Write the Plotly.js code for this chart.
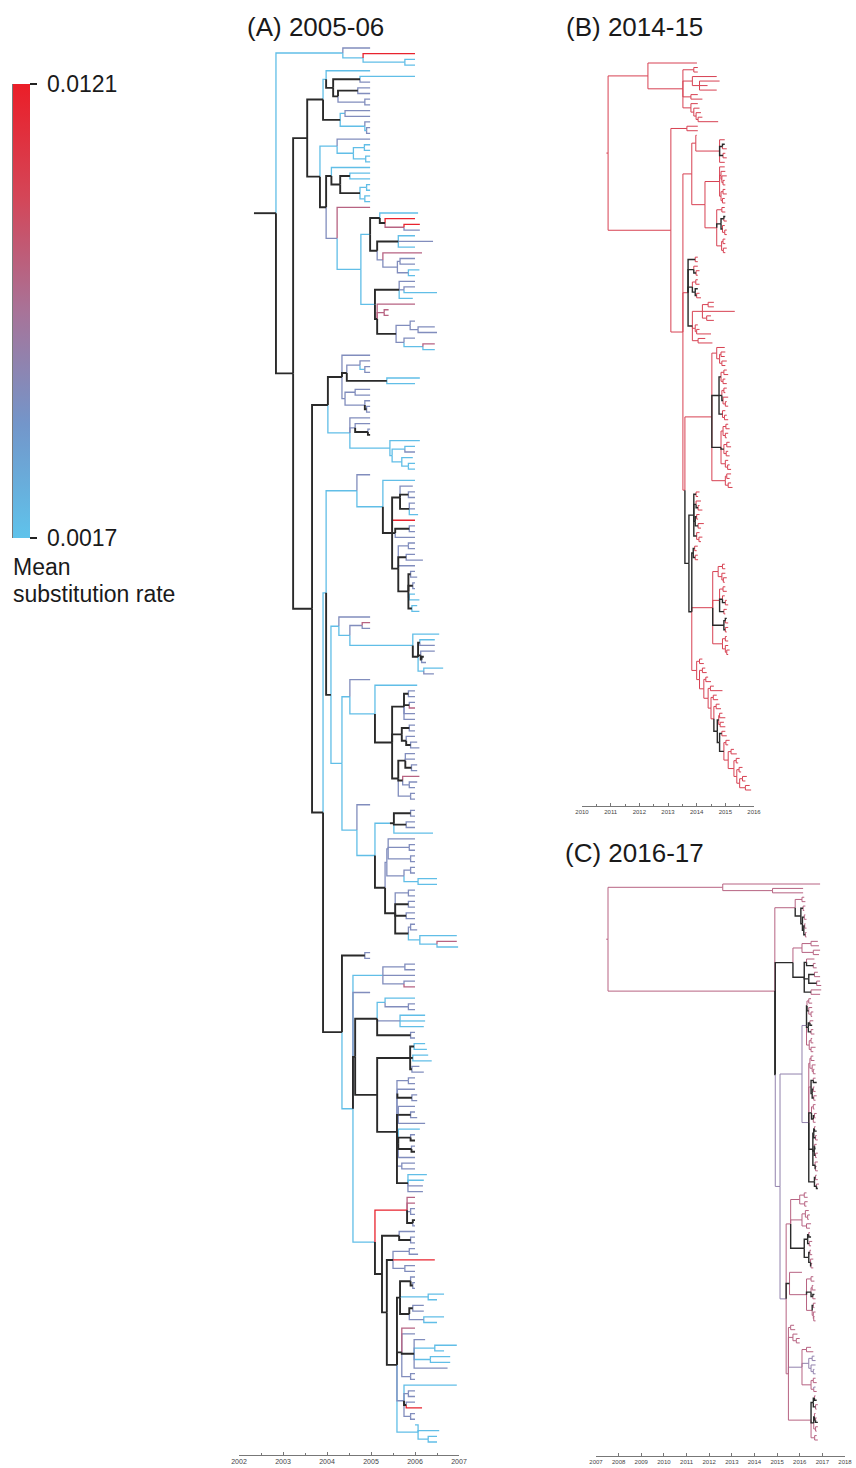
<!DOCTYPE html>
<html>
<head>
<meta charset="utf-8">
<script src="https://cdn.plot.ly/plotly-3.0.1.min.js"></script>
<style>html,body{margin:0;padding:0;background:#fff;}#chart{width:856px;height:1468px;}</style>
</head>
<body>
<div id="chart"></div>
<script>
// ---------------- DATA ----------------
// Branch rate codes -> mean substitution rate (per branch). 'k' marks dark (black) lineages.
const rateCodes  = ['b', 'g', 'l', 'm', 'p', 'r'];
const rateValues = [0.0020, 0.0050, 0.0058, 0.0078, 0.0098, 0.0118];
const darkCode = 'k';
const rateRange = [0.0017, 0.0121];
const rateTickText = ['0.0017', '0.0121'];

const panelTitles = ['(A) 2005-06', '(B) 2014-15', '(C) 2016-17'];
const colorbarTitle = ['Mean', 'substitution rate'];

const ticksA = [2002, 2003, 2004, 2005, 2006, 2007];
const ticksB = [2010, 2011, 2012, 2013, 2014, 2015, 2016];
const ticksC = [2007, 2008, 2009, 2010, 2011, 2012, 2013, 2014, 2015, 2016, 2017, 2018];

// Trees: nested clades "(child,child)TIME CODE", leaf "TIME CODE"; TIME in years after base year.
const baseA = 2000, baseB = 2010, baseC = 2000;

// ---- Tree A (2005-06) ----
const A_G1   = "(4.98g,(6.0r,(6.0b,6.0b)5.77b)4.82b)4.36b";
const A_G2a  = "((4.98b,((6.0b,4.98g)4.75k,((4.98g,4.98g)4.70k,(4.98g,4.98g)4.86g)4.25k)4.14k)3.98b,((4.98g,4.98g)4.41b,(4.98g,(4.98g,4.98g)4.9b)4.86b)4.30k)3.91k";
const A_G2b1 = "(4.98g,((4.98b,4.98b)4.85b,(4.98b,4.98b)4.88b)4.60b)4.23b";
const A_G2b2 = "(4.98b,((4.98b,4.98b)4.52k,((4.98b,4.98b)4.9b,(4.98b,4.98b)4.86b)4.75k)4.30k)4.10k";
const A_G3   = "(4.98m,(((6.07b,(6.0r,(6.11r,6.11g)5.75m)5.32k)5.20k,((6.0b,6.41g,6.0b)5.62k,(6.16m,((6.0g,6.0g)5.66g,(6.1b,6.0b)5.85g)5.60g)5.27g)5.14k)4.98b,((6.0g,(6.0g,6.5b)5.75g,5.95b)5.64k,(6.0m,(5.4m,5.4m)5.3m,((6.0g,(6.45g,6.5g)6.07g)5.89g,(6.0g,(6.45m,6.45b)6.18b)5.75g)5.57k)5.14k)5.09b)4.77b)4.23g";
const A_G4   = "((4.98g,((4.98g,(4.98g,4.98g)4.86b)4.75g,(6.11b,6.0b)5.36k)4.45k,((4.98g,4.98g)4.64g,(4.98g,(4.98g,4.98g)4.9k)4.86g)4.41g)4.34k,(4.98g,(4.98g,(4.98g,4.98k)4.93k)4.64g,(6.11b,((6.0b,6.0g)5.77b,(5.95b,(6.0b,6.0b)5.85b)5.70b)5.48b)5.43b)4.52b)4.02k";
const A_G5   = "(4.98g,(6.0b,((5.95g,(6.0g,6.0g)5.85k,(6.0g,6.0g,6.07b)5.87k)5.66k,6.0r,((6.0g,6.0g)5.87k,6.0g)5.55k,((6.0g,6.0g)5.85g,(6.0g,6.18g)5.80k,6.0g,((6.0g,6.05g)5.9k,(6.0g,6.0g)5.95k,(6.0b,6.1b)5.87g,(6.05b,6.1b)5.93k)5.85k)5.62k)5.48k)5.27b)4.68b";
const A_G6   = "(4.98g,((4.98m,4.98g)4.80g,(6.55b,((6.45b,6.45g)6.11k,(6.45g,(6.2k,6.25g)6.15k)6.13k,(6.64b,6.43g)6.2b)6.07k)5.95b)4.52b)4.27b";
const A_G7   = "(4.98g,(6.05b,(((6.0g,6.0g)5.85k,(6.0g,6.0m)5.87k,6.0g,6.0g)5.75k,((6.0g,6.0g)5.87k,(6.0g,(6.05g,6.1g)5.9k)5.8k)5.7k,((6.0g,6.0g,(6.05g,6.05g)5.92k)5.78k,(6.1m,(6.05g,6.0g)5.87g)5.72k,(6.0g,6.0g)5.9g)5.62k)5.48k)5.09b)4.52b";
const A_G8   = "(4.98g,((((6.0g,6.0g)5.9k,(6.0g,6.0g)5.8k,6.41b)5.52k)5.43b,(((6.0g,(6.0g,6.0g)5.87g,(6.0g,6.0g)5.9g)5.39g,((6.0g,6.0g)5.9g,(6.5b,6.5b)6.07b)5.75g)5.36g,((6.0g,6.0g)5.85g,(6.0g,6.0g)5.85k,(6.0g,6.0g)5.8k,((6.0g,6.05g)5.9g,(6.95b,(6.95m,6.98b)6.5b)6.11b)5.85k)5.55k)5.32k)5.09b)4.68b";
const A_G9a  = "((6.0g,6.0g)5.77g,6.0g,(6.0g,6.0m)5.75g)5.27b";
const A_G9b  = "((6.0b,(6.0g,6.0g)5.85g)5.32b,(6.23b,6.23b,6.2b)5.66g,(6.0g,6.0g)5.9k)5.14k";
const A_G9c  = "((6.23b,6.27b)5.98k,(6.3b,6.38b)5.95k,(6.1g,6.2g)5.93k)5.89k";
const A_G10  = "((6.0g,6.0g)5.85g,(6.0g,(6.05g,6.05g)5.93k)5.6g,(6.0g,(6.0g,6.05g)5.9k,6.23g)5.62k,(6.11b,(6.0g,6.0k)5.9k,(6.0g,6.0k)5.92k,6.0g)5.62k,(6.0g,6.0g)5.7g,(6.27b,6.2b,6.18g,6.18g)5.84k)5.59k";
const A_G11a = "(6.0m,6.0m,(6.0g,6.0g)5.9g,(6.0k,6.0g)5.95k)5.82r";
const A_G11b = "(6.0g,(6.0g,6.0g)5.9k)5.64k";
const A_G11c = "((6.0g,6.07g)5.87g,6.45r,(6.0g,6.0g)5.77g)5.5k";
const A_G11d = "((6.0g,(6.0g,6.0g)5.95k)5.9k,(6.66b,6.5b)6.3b,((6.2g,6.2g)5.95k,(6.66b,6.5b)6.2g)5.87k)5.66k";
const A_G11e = "(6.0m,6.0g,(6.23g,(6.95b,6.66b)6.45b,(6.8b,6.8b)6.35b,6.74g)5.98k,(6.0g,6.0g)5.9g)5.7k";
const A_G11f = "(6.95b,(6.0g,6.0g)5.85g,(6.0g,6.16r)5.8k,(6.0g,6.0g)5.9g)5.75g";
const A_G11g = "(6.0b,6.55b,(6.5b,6.5b)6.3b)6.07b";

// ---- Tree B (2014-15) ----
const B_T    = "(4.01p,((4.04p,4.04p)3.9p,(4.7p,(4.8p,4.38p,4.7p)4.1p)3.85p,(4.04p,4.2p)3.8p,(4.04p,(4.1p,(4.15p,(4.2p,4.75p)4.05p)3.98p)3.9p)3.8p)3.52p)2.30p";
const B_C1   = "(4.04p,4.04p)3.66p";
const B_C2a  = "(4.98p,(4.98k,5.05p)4.9k,(5.0p,5.05p)4.92k,4.98p)4.8p";
const B_C2b  = "(4.98p,(5.0p,(5.05p,(4.98p,5.0p)4.92p)4.88p)4.85p,((5.0p,5.05p)4.92p,(4.98p,5.0p)4.9p)4.85p)4.8p";
const B_C2c  = "((4.98p,5.0p)4.88p,((5.0k,5.05p)4.95k,(4.98p,(5.05p,5.05p)4.98p)4.9k)4.85k,((5.0p,5.0p)4.92p,(5.05p,5.0p)4.93p)4.87p)4.7p";
const B_C3   = "((4.04p,4.04p)3.95k,(4.04p,(4.1p,4.04p)3.98k)3.9k,((4.04p,4.1p)3.97p,(4.04k,(4.1p,4.15p)4.0k)3.95k)3.85k,(((4.6p,4.6p)4.4p,5.33p,(4.5p,4.6p)4.35p)4.2p,(4.04p,(4.1p,4.5p)4.0p)3.95p,(4.3p,4.55p)4.05p)3.85k)3.70p";
const B_C4   = "((4.98p,((5.0p,4.98p)4.85p,(5.05p,5.0p)4.88p)4.8p)4.7p,(((5.05p,5.1p)4.95p,(5.0p,5.05p)4.92p)4.85k,((5.05p,5.0p)4.95p,(5.1p,(5.05p,5.1p)5.0p)4.92k)4.88k,(5.0p,(5.05p,5.1p)4.97p)4.9k)4.78k,(((5.1p,5.15p)5.02p,(5.1p,5.05p)5.0p)4.92p,((5.15p,5.2p)5.05p,(5.1p,5.15p)5.03p)4.95k,(5.1p,(5.15p,5.2p)5.08p)5.0p)4.85k,((5.2p,5.15p)5.05p,(5.2p,5.25p)5.1p)5.0p)4.53p";
const B_C5   = "((4.1p,4.05p)3.98k,(4.15p,(4.1p,4.2p)4.05k)3.98k,((4.1p,4.05p)4.0k,(4.25p,4.15p)4.05k)3.95k,(4.1p,(4.2p,4.15p)4.08p)4.0k)3.9k";
const B_C6   = "((4.04p,4.0p)3.93k,(4.04p,4.05p)3.95k)3.88k";
const B_C7   = "(((4.98p,5.0p)4.9p,(5.0p,(5.05p,4.98p)4.93p)4.88p)4.75p,((5.0p,5.05p)4.92p,(4.98p,(5.05p,5.1p)5.0k)4.9k,(5.05p,5.0p)4.95k)4.8p,((5.05k,5.1p)5.0k,(5.1p,5.05p)5.0k)4.95k,((5.05p,5.1p)5.0p,(5.1p,(5.15p,5.1p)5.05p)5.0p)4.9p)4.56p";
const B_C8   = "((4.2p,4.25p)4.1p,((4.3p,4.35p)4.2p,((4.4p,4.5p)4.32p,((4.6p,4.9p)4.48p,((4.7p,4.75p)4.58p,((4.8p,4.85p)4.68p,(((4.9p,5.0p)4.8p,(4.95p,5.0p)4.82p)4.77k,((5.0p,5.05p)4.88k,((5.15p,5.1p)5.02p,((5.3p,5.4p)5.2p,((5.5p,5.45p)5.38p,((5.6p,5.55p)5.48p,((5.75p,5.7p)5.6p,(5.85p,5.9p)5.7p)5.5p)5.4p)5.3p)5.1p)4.95k)4.8k)4.72k)4.6p)4.5p)4.4p)4.25p)4.1p)4.0p";

// ---- Tree C (2016-17) ----
const C_C0 = "(16.9m,(16.15m,16.15m)14.8m)12.6m";
const C_C1 = "((16.2m,16.25m)16.1m,((16.25m,16.2m)16.15k,((16.25m,16.3m)16.2k,((16.25m,16.3m)16.22k,(16.3m,16.3m)16.25k)16.18k)16.12k)16.05k)15.8m";
const C_C2 = "(((16.8m,16.85m)16.5m,(16.9m,16.85m)16.6m)16.1m,((16.65m,(16.7m,16.75m)16.6k)16.3k,((16.8m,16.9m)16.65k,(16.9m,16.95m)16.75k)16.4k,(16.95m,16.9m)16.5k)16.2k)15.7k";
const C_C3 = "(((16.5m,16.55m)16.4m,(16.55m,(16.6m,16.55m)16.5m)16.4k)16.32k,((16.6m,16.55k)16.45k,(16.6m,16.65m)16.5k)16.38k,((16.55m,16.6m)16.5m,(16.7m,16.6m)16.5m)16.42m)16.3l";
const C_C4 = "(((16.6m,16.65m)16.5m,(16.7m,(16.65m,16.7m)16.6m)16.55m)16.45m,((16.7m,16.75k)16.6k,((16.65m,16.7m)16.6k,(16.75m,16.7m)16.62k)16.55k)16.5m,((16.7m,16.65m)16.6m,((16.75m,16.7m)16.65k,16.7m)16.6k)16.52k,(((16.7m,16.75k)16.65k,(16.75m,16.8m)16.7k)16.62k,((16.75m,16.7k)16.66k,(16.8m,16.75m)16.7k)16.64k,(16.8m,(16.75m,16.8m)16.7k)16.68k)16.58k,((16.75m,16.8m)16.7k,(16.85m,16.8k)16.74k)16.65k)16.4l";
const C_C5 = "(((16.3m,16.35m)16.2m,(16.35m,16.3m)16.22m)16.0m,((16.4m,(16.45m,16.4m)16.35m)16.25m,(16.5m,16.45m)16.3m)16.1m,(((16.45m,16.5k)16.4k,(16.55m,16.5m)16.42k)16.35k,((16.5m,16.55m)16.45k,(16.6m,(16.55m,16.6m)16.5k)16.48k)16.4k)16.2k)15.6m";
const C_C6 = "(16.1m,((16.6m,16.65m)16.5m,((16.6m,16.7m)16.55m,(16.65k,16.7m)16.58k)16.5k,((16.7m,16.65m)16.6k,(16.7m,(16.65m,16.7m)16.62m)16.6m)16.55m)16.3m)15.55k";
const C_C7 = "((15.75m,15.8m)15.6m,(15.9m,(16.0m,16.0m)15.85m)15.7m,((16.5m,16.6m)16.3m,((16.65l,16.7l)16.55l,(16.7l,(16.65l,16.7l)16.6l)16.5l)16.4l,((16.7m,16.75m)16.6m,(16.7l,16.75m)16.62m)16.5m)16.1l,(((16.7m,16.75k)16.65k,(16.8m,16.75m)16.7k)16.6k,((16.7m,(16.75m,16.8k)16.7k)16.65k,(16.8m,16.75m)16.7m)16.62k,(16.75m,16.8m)16.66m)16.5m)15.5m";

// Backbone joins (internal node "time code" for each join)
const treeA =
  "((" + A_G1 + ",((" + A_G2a + ",(" + A_G2b1 + ",(" + A_G2b2 + "," + A_G3 + ")3.98k)3.84k)3.55k,(" +
  A_G4 + ",((" + A_G5 + ",(" + A_G6 + ",(" + A_G7 + "," + A_G8 + ")4.34b)4.09k)3.98b,((4.98g,4.98g)4.86k,(" +
  A_G9a + ",4.98g,(" + A_G9b + ",(" + A_G9c + "," + A_G10 + ")5.14k)4.64k,(" + A_G11a + ",(" + A_G11b + ",(" +
  A_G11c + ",(" + A_G11d + "," + A_G11e + "," + A_G11f + "," + A_G11g + ")5.59k)5.36k)5.25k)5.09b)4.59b)4.34k)3.91k)3.66k)3.23k)2.84k)2.34k";

const treeB =
  "((" + B_T + ",(" + B_C1 + ",(((4.0p," + B_C2a + ")3.97p,(" + B_C2b + "," + B_C2c + ")4.29p)3.83p," + B_C3 + ",(" +
  B_C4 + ",(" + B_C5 + ",(" + B_C6 + "," + B_C7 + "," + B_C8 + ")3.83k)3.73k)3.59p)3.52p)3.1p)0.91p)0.85p";

const treeC =
  "((" + C_C0 + ",(" + C_C1 + ",(" + C_C2 + ",((" + C_C3 + "," + C_C4 + ")16.1l,(" + C_C5 + "," + C_C6 + "," + C_C7 +
  ")15.4l)15.13l)14.92k)14.9m)7.53m)7.45m";

// ---------------- HELPERS ----------------
function parseTree(str, base) {
  const s = str.replace(/\s+/g, '');
  let i = 0;
  function node() {
    const n = {children: []};
    if (s[i] === '(') {
      i++;
      n.children.push(node());
      while (s[i] === ',') { i++; n.children.push(node()); }
      if (s[i] !== ')') throw new Error('expected ) at ' + i + ' near ' + s.slice(i - 25, i + 25));
      i++;
    }
    const j = i;
    while (i < s.length && /[0-9.]/.test(s[i])) i++;
    if (j === i) throw new Error('expected number at ' + i + ' near ' + s.slice(i - 25, i + 25));
    n.t = base + parseFloat(s.slice(j, i));
    n.c = s[i]; i++;
    return n;
  }
  const root = node();
  if (i !== s.length) throw new Error('trailing text at ' + i);
  return root;
}
function layoutTree(root) {
  let k = 0;
  (function rec(n) {
    if (!n.children.length) { n.y = k++; return; }
    n.children.forEach(rec);
    n.y = (n.children[0].y + n.children[n.children.length - 1].y) / 2;
  })(root);
  return k;
}
function collect(root) {
  const segs = {};
  (function rec(n) {
    n.children.forEach(ch => {
      const b = segs[ch.c] || (segs[ch.c] = {x: [], y: []});
      b.x.push(n.t, n.t, ch.t, null);
      b.y.push(n.y, ch.y, ch.y, null);
      rec(ch);
    });
  })(root);
  return segs;
}
const cscale = [
  [0.00, 'rgb(95,195,235)'],
  [0.25, 'rgb(115,150,202)'],
  [0.50, 'rgb(168,115,152)'],
  [0.75, 'rgb(212,70,88)'],
  [1.00, 'rgb(235,30,40)']
];
function colorAt(v) {
  const t = Math.max(0, Math.min(1, (v - rateRange[0]) / (rateRange[1] - rateRange[0])));
  for (let q = 1; q < cscale.length; q++) {
    if (t <= cscale[q][0]) {
      const a = cscale[q - 1], b = cscale[q];
      const f = (t - a[0]) / (b[0] - a[0]);
      const ca = a[1].match(/\d+/g).map(Number), cb = b[1].match(/\d+/g).map(Number);
      return 'rgb(' + ca.map((c, z) => Math.round(c + (cb[z] - c) * f)).join(',') + ')';
    }
  }
  return cscale[cscale.length - 1][1];
}

// ---------------- BUILD ----------------
const W = 856, H = 1468;
const FONT = 'Liberation Sans, Arial, sans-serif';
const panels = [
  {tree: treeA, base: baseA, xa: 'x',  ya: 'y',  px: [239, 459], range: [2002, 2007], leafPx: [48, 1442], axisPx: 1455, topPx: 40, lw: 1.3, lwk: 1.9, ticks: ticksA, minor: 0.5, fs: 7},
  {tree: treeB, base: baseB, xa: 'x2', ya: 'y2', px: [582, 754], range: [2010, 2016], leafPx: [63, 790],  axisPx: 806,  topPx: 55, lw: 1.0, lwk: 1.4, ticks: ticksB, minor: 0.5, fs: 6},
  {tree: treeC, base: baseC, xa: 'x3', ya: 'y3', px: [596, 845], range: [2007, 2018], leafPx: [884, 1440], axisPx: 1456, topPx: 876, lw: 1.0, lwk: 1.4, ticks: ticksC, minor: null, fs: 6}
];

const traces = [];
const layout = {
  width: W, height: H, margin: {l: 0, r: 0, t: 0, b: 0},
  paper_bgcolor: '#fff', plot_bgcolor: 'rgba(0,0,0,0)', showlegend: false,
  font: {family: FONT, color: '#222'},
  annotations: [], shapes: []
};

panels.forEach((p, idx) => {
  const root = parseTree(p.tree, p.base);
  const n = layoutTree(root);
  const segs = collect(root);
  const order = rateCodes.concat([darkCode]);
  order.forEach(code => {
    if (!segs[code]) return;
    const isDark = code === darkCode;
    const color = isDark ? '#2a2a2a' : colorAt(rateValues[rateCodes.indexOf(code)]);
    traces.push({
      type: 'scatter', mode: 'lines', x: segs[code].x, y: segs[code].y,
      xaxis: p.xa, yaxis: p.ya, hoverinfo: 'skip',
      line: {color: color, width: isDark ? p.lwk : p.lw, shape: 'linear'},
      connectgaps: false
    });
  });
  const s = (p.leafPx[1] - p.leafPx[0]) / (n - 1);
  const xKey = idx === 0 ? 'xaxis' : 'xaxis' + (idx + 1);
  const yKey = idx === 0 ? 'yaxis' : 'yaxis' + (idx + 1);
  layout[xKey] = {
    domain: [p.px[0] / W, p.px[1] / W], range: p.range, anchor: p.ya,
    tickmode: 'array', tickvals: p.ticks, ticktext: p.ticks.map(String),
    showgrid: false, zeroline: false, showline: true, linecolor: '#777', linewidth: 1,
    ticks: 'inside', ticklen: 3, tickwidth: 1, tickcolor: '#777',
    tickfont: {size: p.fs, color: '#444', family: FONT},
    fixedrange: true
  };
  if (p.minor) layout[xKey].minor = {tickmode: 'linear', tick0: p.range[0], dtick: p.minor, ticks: 'inside', ticklen: 2, tickcolor: '#777'};
  layout[yKey] = {
    domain: [(H - p.axisPx) / H, (H - p.topPx) / H],
    range: [(p.axisPx - p.leafPx[0]) / s, (p.topPx - p.leafPx[0]) / s],
    visible: false, showgrid: false, zeroline: false, anchor: p.xa, fixedrange: true
  };
});

// colour bar (dummy trace outside visible range)
traces.push({
  type: 'scatter', mode: 'markers', x: [1990], y: [-1000], xaxis: 'x', yaxis: 'y', hoverinfo: 'skip',
  marker: {
    color: [rateRange[0]], cmin: rateRange[0], cmax: rateRange[1], colorscale: cscale, showscale: true, size: 1,
    colorbar: {
      x: 13 / W, xanchor: 'left', y: 1 - 84 / H, yanchor: 'top',
      len: 454, lenmode: 'pixels', thickness: 17, thicknessmode: 'pixels',
      xpad: 0, ypad: 0, outlinewidth: 0,
      tickmode: 'array', tickvals: rateRange, ticktext: rateTickText, showticklabels: false,
      ticks: 'outside', ticklen: 7, tickwidth: 1.2, tickcolor: '#222'
    }
  }
});
layout.shapes.push({type: 'line', xref: 'paper', yref: 'paper', x0: 13 / W, x1: 13 / W, y0: 1 - 84 / H, y1: 1 - 538 / H, line: {color: '#222', width: 1.2}});

const titleFont = {size: 26, color: '#1a1a1a', family: FONT};
const cbFont = {size: 23, color: '#1a1a1a', family: FONT};
layout.annotations.push(
  {text: panelTitles[0], xref: 'paper', yref: 'paper', x: 315 / W, y: 1 - 27 / H, xanchor: 'center', yanchor: 'middle', showarrow: false, font: titleFont},
  {text: panelTitles[1], xref: 'paper', yref: 'paper', x: 634 / W, y: 1 - 27 / H, xanchor: 'center', yanchor: 'middle', showarrow: false, font: titleFont},
  {text: panelTitles[2], xref: 'paper', yref: 'paper', x: 634 / W, y: 1 - 853 / H, xanchor: 'center', yanchor: 'middle', showarrow: false, font: titleFont},
  {text: rateTickText[1], xref: 'paper', yref: 'paper', x: 45 / W, y: 1 - 84 / H, xanchor: 'left', yanchor: 'middle', showarrow: false, font: cbFont},
  {text: rateTickText[0], xref: 'paper', yref: 'paper', x: 45 / W, y: 1 - 538 / H, xanchor: 'left', yanchor: 'middle', showarrow: false, font: cbFont},
  {text: colorbarTitle[0], xref: 'paper', yref: 'paper', x: 11 / W, y: 1 - 567 / H, xanchor: 'left', yanchor: 'middle', showarrow: false, font: cbFont},
  {text: colorbarTitle[1], xref: 'paper', yref: 'paper', x: 11 / W, y: 1 - 594 / H, xanchor: 'left', yanchor: 'middle', showarrow: false, font: cbFont}
);

Plotly.newPlot('chart', traces, layout, {staticPlot: true, displayModeBar: false});
</script>
</body>
</html>
